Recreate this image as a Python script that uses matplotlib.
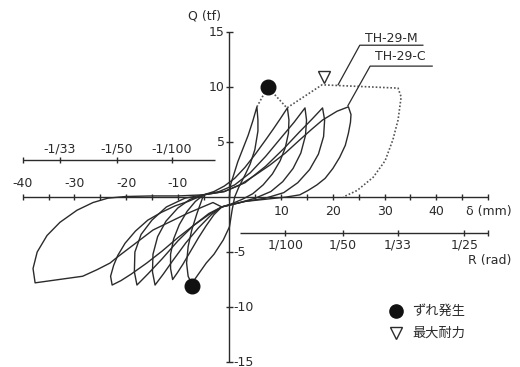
import matplotlib.pyplot as plt
import numpy as np

plt.rcParams["font.family"] = ["DejaVu Sans", "Noto Sans CJK JP"]

INK = "#2b2b2b"

# TH-29-C hysteresis, one list of (delta [mm], Q [tf]) per cycle
cycle1 = [
    (0.0, 0.0), (0.2, 1.1), (1.0, 2.3), (1.6, 3.2), (2.6, 4.4), (3.6, 5.6),
    (4.5, 6.9), (5.3, 8.2),
    (5.5, 7.0), (5.5, 6.0), (4.9, 4.3), (4.0, 3.0), (3.0, 2.0), (1.8, 0.9),
    (1.0, 0.0), (0.5, -1.2), (0.0, -2.7), (-1.2, -3.9), (-3.0, -5.2),
    (-4.5, -6.0), (-5.7, -6.8), (-6.6, -7.4), (-7.3, -7.9),
    (-8.0, -7.2), (-8.3, -6.0), (-8.0, -4.5), (-7.3, -3.0), (-6.3, -1.5),
    (-5.0, 0.2),
]
cycle2 = [
    (-5.0, 0.2), (-3.0, 0.5), (-1.0, 1.0), (1.0, 1.7), (3.0, 2.7), (5.0, 3.9),
    (7.0, 5.2), (8.5, 6.2), (9.8, 7.1), (11.2, 8.1),
    (11.5, 7.0), (11.4, 5.8), (10.8, 4.5), (9.8, 3.3), (8.3, 2.1), (6.5, 1.1),
    (4.5, 0.3), (2.5, -0.2), (0.5, -0.6), (-1.5, -0.9),
    (-3.0, -1.6), (-4.5, -2.6), (-6.0, -3.7), (-7.5, -4.9), (-9.0, -6.1),
    (-10.1, -6.9), (-11.0, -7.5),
    (-11.4, -6.5), (-11.4, -5.2), (-10.8, -3.8), (-9.7, -2.5), (-8.2, -1.3),
    (-6.6, -0.4), (-5.0, 0.2),
]
cycle3 = [
    (-5.0, 0.2), (-2.0, 0.5), (1.0, 1.1), (4.0, 2.2), (7.0, 3.7), (10.0, 5.4),
    (12.5, 6.8), (14.6, 8.1),
    (14.9, 7.0), (14.7, 5.6), (13.8, 4.0), (12.3, 2.6), (10.3, 1.4), (8.0, 0.5),
    (5.0, -0.1), (2.0, -0.5), (-1.5, -0.9),
    (-3.5, -1.6), (-6.0, -2.8), (-8.5, -4.2), (-11.0, -5.8), (-12.8, -7.0),
    (-14.4, -8.0),
    (-14.9, -6.8), (-14.8, -5.2), (-13.9, -3.6), (-12.3, -2.2), (-10.0, -1.0),
    (-7.6, -0.2), (-5.0, 0.2),
]
cycle4 = [
    (-5.0, 0.2), (-1.0, 0.5), (3.0, 1.3), (7.0, 2.8), (10.5, 4.4), (13.5, 5.9),
    (16.0, 7.1), (18.0, 8.1),
    (18.4, 7.0), (18.2, 5.5), (17.2, 3.9), (15.5, 2.5), (13.2, 1.3),
    (10.5, 0.4), (7.0, -0.1), (3.0, -0.4), (-1.5, -0.9),
    (-4.0, -1.5), (-7.0, -2.6), (-10.0, -4.0), (-13.0, -5.6), (-15.8, -7.0),
    (-17.9, -8.0),
    (-18.4, -6.8), (-18.3, -5.0), (-17.1, -3.4), (-15.0, -2.1), (-12.2, -0.9),
    (-8.6, -0.1), (-5.0, 0.2),
]
cycle5 = [
    (-5.0, 0.2), (-1.0, 0.5), (2.0, 1.1), (5.0, 2.0), (7.8, 2.9), (10.8, 4.0),
    (13.6, 5.2), (16.0, 6.2), (18.0, 7.0), (20.8, 7.8), (23.0, 8.2),
    (23.5, 7.5), (23.4, 6.8), (23.0, 5.8), (22.4, 4.7), (21.3, 3.6),
    (20.0, 2.6), (18.5, 1.7), (16.9, 1.1), (15.2, 0.6), (13.6, 0.2),
    (11.0, 0.0), (7.0, -0.2), (3.0, -0.4), (-1.5, -0.9),
    (-4.0, -1.6), (-7.0, -2.6), (-10.0, -3.7), (-13.0, -4.9), (-16.0, -6.0),
    (-19.0, -7.0), (-21.0, -7.6), (-22.7, -8.0),
    (-23.0, -7.2), (-22.4, -6.2), (-21.6, -5.3), (-20.2, -4.2), (-18.2, -3.1),
    (-15.8, -2.1), (-13.2, -1.4), (-10.5, -0.8), (-8.0, -0.4), (-5.0, 0.2),
]
cycle6 = [
    (-1.5, -0.9), (-3.2, -0.5), (-8.2, -1.5), (-14.8, -3.0), (-21.8, -5.5),
    (-23.1, -6.0), (-25.6, -6.6), (-28.4, -7.2), (-37.6, -7.8),
    (-38.0, -6.5), (-37.2, -5.0), (-35.3, -3.5), (-32.8, -2.3), (-29.5, -1.2),
    (-26.4, -0.5), (-23.5, -0.1), (-20.0, 0.05), (-15.0, 0.1), (-10.0, 0.1),
    (-5.0, 0.2),
]
cycles_c = [cycle1, cycle2, cycle3, cycle4, cycle5, cycle6]

# TH-29-M skeleton (dotted), running through the slip point
envelope_m = [
    (5.3, 8.2), (7.4, 10.0), (11.1, 8.1), (17.9, 10.2), (32.6, 9.9),
    (33.2, 9.1), (32.6, 7.0), (31.6, 5.2), (30.1, 3.3), (27.8, 1.8),
    (24.7, 0.6), (22.0, 0.0),
]

slip_d = [7.4, -7.2]
slip_q = [10.0, -8.1]
max_d = [18.3]
max_q = [10.9]

delta_ticks = np.arange(-40, 51, 5)
delta_labels_neg = [-40, -30, -20, -10]
delta_labels_pos = [10, 20, 30, 40]
q_ticks = [15, 10, 5, -5, -10, -15]
q_labels_pos = [15, 10, 5]
q_labels_neg = [-5, -10, -15]

# drift angle scales, positions in mm of sway
r_neg_text = ["-1/33", "-1/50", "-1/100"]
r_neg_mm = [-32.8, -21.8, -11.1]
r_pos_text = ["1/100", "1/50", "1/33", "1/25"]
r_pos_mm = [10.8, 21.9, 32.6, 45.4]

fig = plt.figure(figsize=(5.2, 3.67), dpi=100)
ax = fig.add_axes([0, 0, 1, 1])
ax.set_xlim(-44.39, 56.19)
ax.set_ylim(-15.45, 17.91)
ax.axis("off")

axis_kw = dict(color=INK, lw=1.0)
txt_kw = dict(color=INK, fontsize=9)

# delta axis
ax.hlines(0, -40, 50, **axis_kw)
ax.vlines(delta_ticks, -0.28, 0.28, **axis_kw)
for v in delta_labels_neg:
    ax.text(v, 1.25, f"{v}", ha="center", va="center", **txt_kw)
for v in delta_labels_pos:
    ax.text(v, -1.3, f"{v}", ha="center", va="center", **txt_kw)
ax.text(54.6, -1.35, "δ (mm)", ha="right", va="center", **txt_kw)

# Q axis
ax.vlines(0, -15, 15, **axis_kw)
ax.hlines(q_ticks, -0.6, 0.6, **axis_kw)
for v in q_labels_pos:
    ax.text(-0.9, v, f"{v}", ha="right", va="center", **txt_kw)
for v in q_labels_neg:
    ax.text(0.8, v, f"{v}", ha="left", va="center", **txt_kw)
ax.text(-4.8, 16.45, "Q (tf)", ha="center", va="center", **txt_kw)

# R scales
ax.hlines(3.36, -40, -2.8, **axis_kw)
ax.vlines([-40] + r_neg_mm, 3.1, 3.6, **axis_kw)
for pos, lab in zip(r_neg_mm, r_neg_text):
    ax.text(pos, 4.4, lab, ha="center", va="center", **txt_kw)
ax.hlines(-3.27, 2.0, 50, **axis_kw)
ax.vlines(r_pos_mm + [50], -3.5, -3.0, **axis_kw)
for pos, lab in zip(r_pos_mm, r_pos_text):
    ax.text(pos, -4.4, lab, ha="center", va="center", **txt_kw)
ax.text(54.6, -5.8, "R (rad)", ha="right", va="center", **txt_kw)

# loops
for cyc in cycles_c:
    d, q = np.array(cyc).T
    ax.plot(d, q, color=INK, lw=1.0, solid_joinstyle="round")

d, q = np.array(envelope_m).T
ax.plot(d, q, color="#555555", lw=1.2, ls=(0, (1, 1.2)))

ax.plot(slip_d, slip_q, "o", color="#111111", ms=10.5, ls="none", zorder=5)
ax.plot(max_d, max_q, "v", mfc="white", mec=INK, mew=1.0, ms=8.5, ls="none", zorder=5)

# series labels with leaders
ax.text(26.2, 14.45, "TH-29-M", ha="left", va="center", **txt_kw)
ax.plot([37.4, 25.2, 21.0], [13.8, 13.8, 10.2], color=INK, lw=0.9)
ax.text(28.1, 12.75, "TH-29-C", ha="left", va="center", **txt_kw)
ax.plot([39.2, 27.2, 22.9], [11.9, 11.9, 8.3], color=INK, lw=0.9)

# legend
ax.plot([32.2], [-10.4], "o", color="#111111", ms=9.5, ls="none")
ax.text(35.3, -10.4, "ずれ発生", ha="left", va="center", color=INK, fontsize=9.5)
ax.plot([32.2], [-12.4], "v", mfc="white", mec=INK, mew=1.0, ms=8, ls="none")
ax.text(35.3, -12.4, "最大耐力", ha="left", va="center", color=INK, fontsize=9.5)

fig.savefig("out.png", dpi=100)
